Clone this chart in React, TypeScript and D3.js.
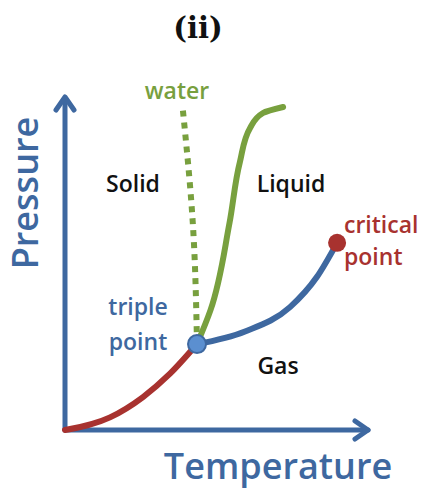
import { scaleLinear, line, curveMonotoneX, curveMonotoneY } from "d3";

// phase boundary curves, in arbitrary temperature / pressure units (0-100)
const sublimation: [number, number][] = [[0, 0], [15, 3.8], [26, 9.9], [35, 16.9], [44, 25.8]];
const vaporization: [number, number][] = [[44, 25.8], [60, 29.6], [75, 36.9], [84, 46], [90.7, 56.2]];
const fusion: [number, number][] = [[44, 25.8], [48.5, 36], [54.8, 62], [58.3, 80.5], [61.7, 90.7], [66, 95.2], [72.7, 97]];
const waterFusion: [number, number][] = [[44, 25.8], [42.7, 60.7], [39.3, 96]];
const triplePoint: [number, number] = [44, 25.8];
const criticalPoint: [number, number] = [90.7, 56.2];

const blue = "#3e68a0";
const green = "#78a03e";
const red = "#a8322f";
const font = "'Open Sans', sans-serif";

export default function App() {
  const width = 424, height = 490;
  const x = scaleLinear().domain([0, 100]).range([65, 365]);
  const y = scaleLinear().domain([0, 100]).range([430, 97]);
  const pathX = line<[number, number]>().x(d => x(d[0])).y(d => y(d[1])).curve(curveMonotoneX);
  const pathY = line<[number, number]>().x(d => x(d[0])).y(d => y(d[1])).curve(curveMonotoneY);

  const x0 = x(0), y0 = y(0);
  return (
    <svg width={width} height={height} style={{ position: "absolute", left: 0, top: 0, background: "#fff" }}>
      <text x={198} y={38} textAnchor="middle" fontFamily="'DejaVu Serif', serif" fontWeight="bold" fontSize={29} fill="#111">(ii)</text>

      {/* axes */}
      <g stroke={blue} strokeWidth={5} fill="none" strokeLinecap="round" strokeLinejoin="round">
        <line x1={x0} y1={y0} x2={x0} y2={y(100) + 2} />
        <polyline points={`${x0 - 9},${y(100) + 13} ${x0},${y(100)} ${x0 + 9},${y(100) + 13}`} />
        <line x1={x0} y1={y0} x2={x(101)} y2={y0} />
        <polyline points={`${x(101) - 13},${y0 - 9} ${x(101)},${y0} ${x(101) - 13},${y0 + 9}`} />
      </g>
      <text transform="translate(38,193) rotate(-90)" textAnchor="middle" fontFamily={font} fontWeight={600} fontSize={36} fill={blue}>Pressure</text>
      <text x={278} y={479} textAnchor="middle" fontFamily={font} fontWeight={600} fontSize={36} fill={blue}>Temperature</text>

      {/* curves */}
      <path d={pathY(waterFusion) ?? ""} stroke={green} strokeWidth={6} fill="none" strokeDasharray="6,6" />
      <path d={pathY(fusion) ?? ""} stroke={green} strokeWidth={6} fill="none" strokeLinecap="round" />
      <path d={pathX(sublimation) ?? ""} stroke={red} strokeWidth={6} fill="none" strokeLinecap="round" />
      <path d={pathX(vaporization) ?? ""} stroke={blue} strokeWidth={6} fill="none" strokeLinecap="round" />
      <circle cx={x(criticalPoint[0])} cy={y(criticalPoint[1])} r={9} fill={red} />
      <circle cx={x(triplePoint[0])} cy={y(triplePoint[1])} r={9} fill="#5b8fd0" stroke={blue} strokeWidth={2} />

      {/* labels */}
      <g fontFamily={font} fontWeight={600} fontSize={23}>
        <text x={177} y={99} textAnchor="middle" fill={green}>water</text>
        <text x={133} y={192} textAnchor="middle" fill="#111">Solid</text>
        <text x={291} y={192} textAnchor="middle" fill="#111">Liquid</text>
        <text x={344} y={233} fill={red}>critical</text>
        <text x={344} y={265} fill={red}>point</text>
        <text x={138} y={315} textAnchor="middle" fill={blue}>triple</text>
        <text x={138} y={350} textAnchor="middle" fill={blue}>point</text>
        <text x={278} y={374} textAnchor="middle" fill="#111">Gas</text>
      </g>
    </svg>
  );
}
